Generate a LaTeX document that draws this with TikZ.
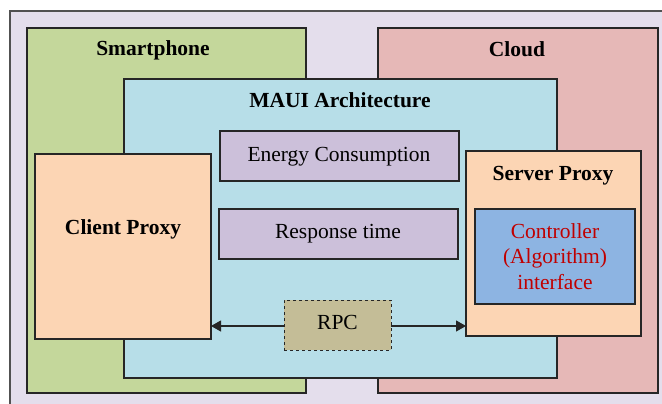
\documentclass[tikz,border=0pt]{standalone}
\usepackage{fontspec}
\setmainfont{Liberation Serif}
\newfontfamily\tnr{Liberation Serif}
\usetikzlibrary{arrows.meta}
\definecolor{bgl}{HTML}{E4DEEC}
\definecolor{phone}{HTML}{C4D79B}
\definecolor{cloudc}{HTML}{E6B8B7}
\definecolor{maui}{HTML}{B7DEE8}
\definecolor{peach}{HTML}{FCD5B4}
\definecolor{lilac}{HTML}{CCC0DA}
\definecolor{ctrl}{HTML}{8DB4E2}
\definecolor{rpcc}{HTML}{C4BD97}
\definecolor{redt}{HTML}{C00000}
\definecolor{edge}{HTML}{262626}
\tikzset{
  area/.style={draw=edge, line width=1.3pt, inner sep=0pt, outer sep=0pt},
  txt/.style={font=\tnr\fontsize{21.5}{25.5}\selectfont, inner sep=0pt, anchor=base},
  btxt/.style={font=\tnr\bfseries\fontsize{21.5}{25.5}\selectfont, inner sep=0pt, anchor=base},
  conn/.style={draw=edge, line width=1.1pt, -{Triangle[length=10pt,width=11pt]}},
}
\begin{document}
\begin{tikzpicture}[x=1pt,y=-1pt]
\useasboundingbox (0,0) rectangle (662,404);
\fill[white] (0,0) rectangle (662,404);
\clip (0,0) rectangle (662,404);
% outer frame
\draw[draw=edge!80, line width=1.2pt, fill=bgl] (10,11) rectangle (672,414);
% smartphone & cloud
\draw[area, fill=phone] (27,28) rectangle (306,393);
\draw[area, fill=cloudc] (378,28) rectangle (658,393);
\node[btxt] (tphone) at (153,56) {Smartphone};
\node[btxt] (tcloud) at (517,57) {Cloud};
% MAUI
\draw[area, fill=maui] (124,79) rectangle (557,378);
\node[btxt] (tmaui) at (340,108) {MAUI Architecture};
% proxies
\node[area, fill=peach, anchor=north west, minimum width=176pt, minimum height=185pt] (client) at (35,154) {};
\node[btxt] (tclient) at (123,234) {Client Proxy};
\node[area, fill=peach, anchor=north west, minimum width=175pt, minimum height=185pt] (server) at (466,151) {};
\node[btxt] (tserver) at (553,180) {Server Proxy};
\node[area, fill=ctrl, anchor=north west, minimum width=160pt, minimum height=95pt] (ctrlbox) at (475,209) {};
\node[txt, text=redt] (tctrl1) at (555,238) {Controller};
\node[txt, text=redt] (tctrl2) at (555,263.5) {(Algorithm)};
\node[txt, text=redt] (tctrl3) at (555,289) {interface};
% middle boxes
\node[area, fill=lilac, anchor=north west, minimum width=239pt, minimum height=50pt] (energy) at (220,131) {};
\node[txt] (tenergy) at (339,161) {Energy Consumption};
\node[area, fill=lilac, anchor=north west, minimum width=239pt, minimum height=50pt] (resp) at (219,209) {};
\node[txt] (tresp) at (338,238) {Response time};
\node[area, fill=rpcc, dashed, line width=1pt, anchor=north west, minimum width=107pt, minimum height=50pt] (rpc) at (284,300) {};
\node[txt] (trpc) at (337.5,329) {RPC};
% connectors
\draw[conn] (rpc.west |- 0,326) -- (client.east |- 0,326);
\draw[conn] (rpc.east |- 0,326) -- (server.west |- 0,326);
\end{tikzpicture}
\end{document}
